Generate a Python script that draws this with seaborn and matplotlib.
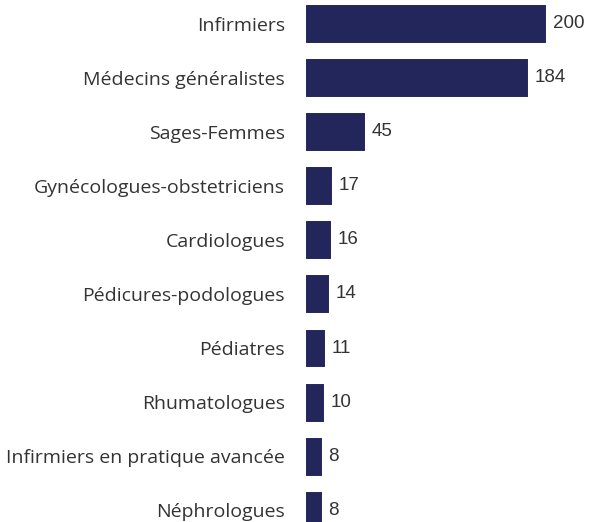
import matplotlib
matplotlib.use("Agg")
import matplotlib.pyplot as plt
import seaborn as sns
import pandas as pd

# professions and counts
professions = [
    "Infirmiers",
    "Médecins généralistes",
    "Sages-Femmes",
    "Gynécologues-obstetriciens",
    "Cardiologues",
    "Pédicures-podologues",
    "Pédiatres",
    "Rhumatologues",
    "Infirmiers en pratique avancée",
    "Néphrologues",
]
counts = [200, 184, 45, 17, 16, 14, 11, 10, 8, 8]

df = pd.DataFrame({"profession": professions, "count": counts})

navy = "#23265b"

sns.set_style("white")
plt.rcParams["font.family"] = ["Open Sans", "DejaVu Sans"]

fig = plt.figure(figsize=(5.91, 5.22), dpi=100)
ax = fig.add_axes([0.522, 0.0, 0.475, 1.0])

sns.barplot(data=df, x="count", y="profession", orient="h", color=navy,
            saturation=1, width=0.574, edgecolor=navy, linewidth=5, ax=ax)
# let the thick edge show on the left side too
for p in ax.patches:
    p.set_clip_on(False)

ax.set_xlim(0, 240)
ax.set_ylim(9.222, -0.444)

# value labels to the right of each bar
ax.bar_label(ax.containers[0], labels=[str(v) for v in counts], padding=7.5,
             fontsize=13.5, color="#333333", family=["Liberation Sans"])

ax.set_xlabel("")
ax.set_ylabel("")
ax.set_xticks([])
ax.tick_params(axis="y", length=0, pad=17, labelsize=14, labelcolor="#333333")
sns.despine(ax=ax, left=True, bottom=True)

fig.savefig("out.png", dpi=100)
